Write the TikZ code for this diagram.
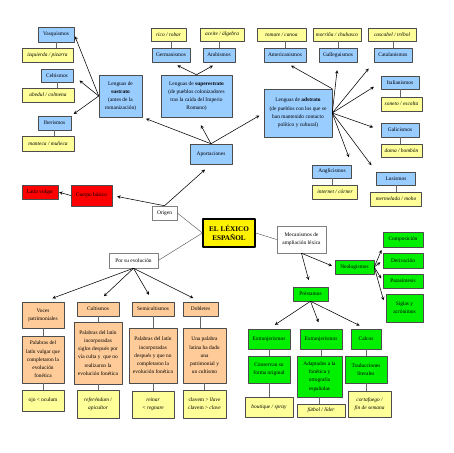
\documentclass[tikz,border=0pt]{standalone}
\usepackage{fontspec}
\setmainfont{Liberation Serif}
\definecolor{cblu}{RGB}{153,204,255}
\definecolor{cylw}{RGB}{255,255,153}
\definecolor{cgrn}{RGB}{0,240,0}
\definecolor{corg}{RGB}{255,204,153}
\newcommand\fs{\fontsize{5.4}{8.2}\selectfont}
\begin{document}
\begin{tikzpicture}[x=1pt,y=-1pt,line join = round, line cap = round,>=stealth,font=\fs,
	box/.style={draw=black!70,line width=.5pt,inner sep=0pt,align=center},
	sz/.style 2 args={minimum width=#1pt,minimum height=#2pt},
	blu/.style={box,fill=cblu},
	ylw/.style={box,fill=cylw,font=\fs\itshape},
	rd/.style={box,fill=red},
	grn/.style={box,fill=cgrn},
	org/.style={box,fill=corg},
	wht/.style={box,draw=black!50,fill=white},
	lnk/.style={draw=black!60,line width=.5pt},
	arr/.style={->,line width=.55pt}]
\useasboundingbox (0,0) rectangle (453,453);
% Aportaciones
\node[blu,sz={36}{15}] (vasq) at (56,34.5) {Vasquismos};
\node[ylw,sz={51}{14}] (izq) at (47.5,55) {izquierda / pizarra};
\node[blu,sz={32}{13}] (celt) at (57,75.5) {Celtismos};
\node[ylw,sz={52}{14}] (abed) at (48,95) {abedul / colmena};
\node[blu,sz={33}{14}] (iber) at (54.5,123) {Iberismos};
\node[ylw,sz={52}{15}] (mant) at (48,143.5) {manteca / muñeca};
\node[blu,sz={43}{42}] (sust) at (120.5,96) {Lenguas de\\\textbf{sustrato}\\(antes de la\\romanización)};
\node[ylw,sz={35}{13}] (rico) at (168.5,34.5) {rico / robar};
\node[ylw,sz={44}{13}] (acei) at (222,34.5) {aceite / álgebra};
\node[blu,sz={38}{14}] (germ) at (171,55) {Germanismos};
\node[blu,sz={32}{14}] (arab) at (219,55) {Arabismos};
\node[blu,sz={71}{42}] (sup) at (196.5,96) {Lenguas de \textbf{superestrato}\\(de pueblos colonizadores\\tras la caída del Imperio\\Romano)};
\node[blu,sz={42}{20}] (aport) at (211,154) {Aportaciones};
\node[ylw,sz={49}{13}] (toma) at (281.5,34.5) {tomate / canoa};
\node[ylw,sz={48}{13}] (morr) at (337,34.5) {morriña / chubasco};
\node[ylw,sz={48}{13}] (casc) at (392,34.5) {cascabel / trébol};
\node[blu,sz={42}{14}] (amer) at (285,55) {Americanismos};
\node[blu,sz={38}{14}] (gall) at (338,55) {Galleguismos};
\node[blu,sz={38}{14}] (cata) at (393,55) {Catalanismos};
\node[blu,sz={68}{48}] (adst) at (298,113) {Lenguas de \textbf{adstrato}\\(de pueblos con los que se\\han mantenido contacto\\político y cultural)};
\node[blu,sz={38}{13}] (ital) at (400,82.5) {Italianismos};
\node[ylw,sz={41}{14}] (sone) at (401.5,104) {soneto / escolta};
\node[blu,sz={38}{14}] (gali) at (400,130) {Galicismos};
\node[ylw,sz={41}{13}] (dama) at (401.5,150.5) {dama / bombón};
\node[blu,sz={39}{13}] (angl) at (332,171.5) {Anglicismos};
\node[ylw,sz={45}{14}] (inte) at (335,192) {internet / córner};
\node[blu,sz={39}{13}] (lusi) at (396,178.5) {Lusismos};
\node[ylw,sz={51}{14}] (merm) at (396,199) {mermelada / moho};
% Origen
\node[rd,sz={36}{14}] (lat) at (40,192) {Latín vulgar};
\node[rd,sz={41}{21}] (cuer) at (91.5,195.5) {Cuerpo básico};
\node[wht,sz={25}{14}] (orig) at (164.5,213) {Origen};
\node[box,draw=black,line width=1.2pt,fill=yellow,sz={52}{28},font=\fontsize{7.2}{9.5}\selectfont\bfseries] (lex) at (229,233) {EL LÉXICO\\ESPAÑOL};
% Mecanismos
\node[wht,sz={49}{27}] (mec) at (301.5,239.5) {Mecanismos de\\ampliación léxica};
\node[grn,sz={39}{14}] (neo) at (354.5,267) {Neologismos};
\node[grn,sz={40}{15}] (comp) at (403,239.5) {Composición};
\node[grn,sz={40}{15}] (deri) at (403,260.5) {Derivación};
\node[grn,sz={40}{14}] (para) at (403,281) {Parasíntesis};
\node[grn,sz={37}{28}] (sigl) at (404.5,308) {Siglas y\\acrónimos};
\node[grn,sz={35}{14}] (prest) at (310.5,294) {Préstamos};
\node[grn,sz={42}{20}] (ext1) at (269,339) {Extranjerismos};
\node[grn,sz={42}{20}] (ext2) at (321,339) {Extranjerismos};
\node[grn,sz={30}{20}] (calc) at (366,339) {Calcos};
\node[grn,sz={42}{27}] (cons) at (269,369.5) {Conservan su\\forma original};
\node[grn,sz={45}{41}] (adap) at (319.5,376.5) {Adaptados a la\\fonética y\\ortografía\\españolas};
\node[grn,sz={42}{27}] (trad) at (366,369.5) {Traducciones\\literales};
\node[ylw,sz={48}{20}] (bout) at (269,407) {boutique / spray};
\node[ylw,sz={48}{13}] (futb) at (321,410.5) {fútbol / líder};
\node[ylw,sz={43}{26}] (cort) at (369.5,404) {cortafuego /\\fin de semana};
% Por su evolucion
\node[wht,sz={49}{15}] (evol) at (133.5,260.5) {Por su evolución};
\node[org,sz={42}{26}] (voce) at (43,315) {Voces\\patrimoniales};
\node[org,sz={42}{47}] (pal1) at (43,359.5) {Palabras del\\latín vulgar que\\completaron la\\evolución\\fonética};
\node[ylw,sz={42}{21},font=\fs] (ojo) at (43,400.5) {ojo < oculum};
\node[org,sz={42}{14}] (cult) at (98,309) {Cultismos};
\node[org,sz={48}{62}] (pal2) at (98,353) {Palabras del latín\\incorporadas\\siglos después por\\vía culta y \ que no\\realizaron la\\evolución fonética};
\node[ylw,sz={42}{28}] (refe) at (98,404) {referéndum /\\apicultor};
\node[org,sz={42}{14}] (semi) at (153,309) {Semicultismos};
\node[org,sz={48}{55}] (pal3) at (153,355.5) {Palabras del latín\\incorporadas\\después y que no\\completaron la\\evolución fonética};
\node[ylw,sz={42}{27}] (rein) at (153,404.5) {reinar\\< regnare};
\node[org,sz={35}{14}] (dobl) at (200.5,309) {Dobletes};
\node[org,sz={43}{55}] (pal4) at (204.5,355.5) {Una palabra\\latina ha dado\\una\\patrimonial y\\un cultismo};
\node[ylw,sz={43}{28},font=\fs] (clav) at (204.5,404) {clavem > \textit{llave}\\clavem > \textit{clave}};
% enlaces
\foreach \a/\b in {vasq/izq,celt/abed,iber/mant,ital/sone,gali/dama,angl/inte,lusi/merm,
	voce/pal1,pal1/ojo,cult/pal2,pal2/refe,semi/pal3,pal3/rein,dobl/pal4,pal4/clav,
	ext1/cons,cons/bout,ext2/adap,adap/futb,calc/trad,trad/cort}
	\draw[lnk] (\a.south) -- (\a.south |- \b.north);
\foreach \a/\b in {germ/rico,arab/acei,amer/toma,gall/morr,cata/casc}
	\draw[lnk] (\a.north) -- (\a.north |- \b.south);
\draw[lnk] (orig.east) -- (lex.west) -- (evol.east);
\draw[lnk] (lex.east) -- (mec.west);
% flechas
\foreach \t/\s in {vasq.east/2,celt.east/8,iber.north east/3}
	\draw[arr,shorten >=\s pt] (sust.west) -- (\t);
\foreach \t in {germ.south,arab.south}
	\draw[arr,shorten >=7pt] (sup.north) -- (\t);
\foreach \t/\s in {sust.south east/4,sup.south/9,adst.west/5}
	\draw[arr,shorten >=\s pt] (aport.north) -- (\t);
\draw[arr,shorten >=7pt] (adst.north east) -- (amer.south);
\foreach \t in {gall.south,cata.south west,ital.west,gali.west,angl.north east,lusi.north west}
	\draw[arr,shorten >=8pt] (adst.east) -- (\t);
\draw[arr,shorten >=5pt] (orig.north) -- (cuer.east);
\draw[arr,shorten >=8pt] (orig.north) -- (aport.south);
\draw[arr,shorten >=1pt] (cuer.west) -- (lat.east);
\foreach \t/\s in {voce.north/10,cult.north/8,semi.north/8,dobl.north/8}
	\draw[arr,shorten >=\s pt] (evol.south) -- (\t);
\draw[arr,shorten >=3pt] (mec.south) -- (neo.west);
\draw[arr,shorten >=7pt] (mec.south) -- (prest.north);
\foreach \t/\s in {comp.south west/3,deri.west/3,para.west/3,sigl.west/8}
	\draw[arr,shorten >=\s pt] (neo.east) -- (\t);
\foreach \t in {ext1.north,ext2.north,calc.north}
	\draw[arr,shorten >=7pt] (prest.south) -- (\t);
\end{tikzpicture}
\end{document}
